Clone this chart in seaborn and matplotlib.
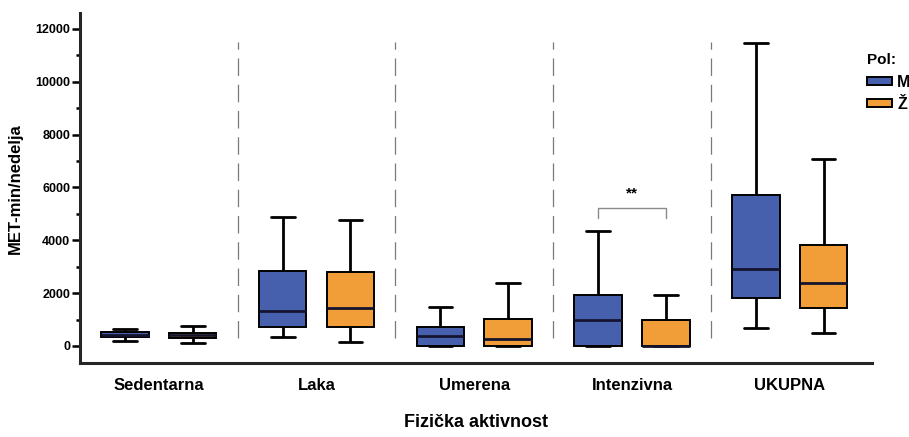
import matplotlib
matplotlib.use("Agg")
import matplotlib.pyplot as plt
from matplotlib.ticker import MultipleLocator
import seaborn as sns
import pandas as pd

# Five-number summaries (min, Q1, median, Q3, max) in MET-min/nedelja
categories = ["Sedentarna", "Laka", "Umerena", "Intenzivna", "UKUPNA"]
groups = ["M", "Ž"]
summary_m = [
    [200, 330, 420, 520, 630],
    [340, 730, 1340, 2820, 4870],
    [0, 0, 380, 730, 1460],
    [0, 0, 990, 1940, 4340],
    [670, 1810, 2920, 5710, 11470],
]
summary_z = [
    [100, 290, 400, 500, 770],
    [160, 730, 1450, 2800, 4760],
    [0, 0, 250, 1040, 2400],
    [0, 0, 0, 990, 1940],
    [480, 1420, 2400, 3810, 7060],
]
y_ticks = [0, 2000, 4000, 6000, 8000, 10000, 12000]
palette = {"M": "#4760AD", "Ž": "#F29E38"}

rows = []
for cat, sm, sz in zip(categories, summary_m, summary_z):
    for g, stats in zip(groups, (sm, sz)):
        for v in stats:
            rows.append({"Fizička aktivnost": cat, "Pol": g, "MET": v})
df = pd.DataFrame(rows)

sns.set_style("ticks")
plt.rcParams["font.family"] = ["Liberation Sans", "DejaVu Sans"]
plt.rcParams["font.weight"] = "bold"
for key in ["text.color", "axes.labelcolor", "xtick.color", "ytick.color"]:
    plt.rcParams[key] = "black"

fig = plt.figure(figsize=(9.09, 4.37), dpi=100)
ax = fig.add_axes([0.088, 0.169, 0.871, 0.801])

sns.boxplot(
    data=df, x="Fizička aktivnost", y="MET", hue="Pol",
    order=categories, hue_order=groups, palette=palette,
    whis=(0, 100), width=0.86, gap=0.3, saturation=1,
    linecolor="black", linewidth=1.4,
    whiskerprops={"linewidth": 2.0}, capprops={"linewidth": 2.0},
    medianprops={"linewidth": 2.0, "color": "#14142e"},
    ax=ax,
)

# Dashed separators between activity groups
for xpos in [0.5, 1.5, 2.5, 3.5]:
    ax.plot([xpos, xpos], [300, 11500], color="#7a7a7a", lw=0.9,
            linestyle=(0, (14, 7)), zorder=0)

# Significance bracket for Intenzivna
x_m, x_z = 3 - 0.215, 3 + 0.215
ax.plot([x_m, x_m, x_z, x_z], [4850, 5230, 5230, 4850], color="#8a8a8a", lw=1.0)
ax.text(3, 5500, "**", ha="center", va="bottom", fontsize=11, fontweight="bold")

ax.set_xlim(-0.5, 4.52)
ax.set_ylim(-650, 12600)
ax.set_yticks(y_ticks)
ax.yaxis.set_minor_locator(MultipleLocator(1000))
ax.tick_params(axis="y", which="major", length=6, width=1.8, labelsize=9, pad=1)
ax.tick_params(axis="y", which="minor", length=3, width=1.8)
ax.tick_params(axis="x", length=0, labelsize=12, pad=11)
for lbl in ax.get_xticklabels() + ax.get_yticklabels():
    lbl.set_fontweight("bold")

sns.despine(ax=ax)
ax.spines["left"].set_linewidth(2.2)
ax.spines["bottom"].set_linewidth(2.2)

ax.set_ylabel("MET-min/nedelja", fontsize=12, fontweight="bold", labelpad=9)
ax.set_xlabel("Fizička aktivnost", fontsize=13, fontweight="bold", labelpad=15)

sns.move_legend(
    ax, loc="upper left", bbox_to_anchor=(0.950, 0.885),
    bbox_transform=fig.transFigure, frameon=False, title="Pol:",
    fontsize=11.5, title_fontsize=11, handlelength=1.6, handleheight=0.45,
    handletextpad=0.3, labelspacing=0.45, alignment="left",
    borderpad=0.2, borderaxespad=0,
)
leg = ax.get_legend()
leg.get_title().set_fontweight("bold")
for t in leg.get_texts():
    t.set_fontweight("bold")

fig.savefig("out.png", dpi=100)
